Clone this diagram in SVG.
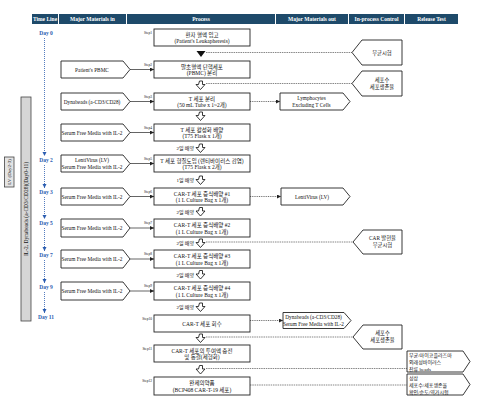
<svg xmlns="http://www.w3.org/2000/svg" width="488" height="404" viewBox="0 0 488 404">
<style>
text{font-family:"Liberation Serif","Noto Sans CJK KR",serif;fill:#111}
.hb{fill:#1e4a6a}
.hd{font-size:5.5px;font-weight:bold;fill:#fff;text-anchor:middle}
.box{fill:#fff;stroke:#222;stroke-width:0.9}
.pt{font-size:5.5px;text-anchor:middle}
.mt{font-size:5.3px;text-anchor:middle}
.rt{font-size:5px}
.st{font-size:3.5px;text-anchor:end}
.lbl{font-size:5px;text-anchor:end}
.day{font-size:5.5px;font-weight:bold;fill:#2a5cb0;text-anchor:middle}
.ha{fill:#fff;stroke:#222;stroke-width:0.9}
.in{stroke:#222;stroke-width:0.7;fill:none}
.out{stroke:#333;stroke-width:0.7;stroke-dasharray:1 0.8;fill:none}
.dash{stroke:#555;stroke-width:0.7;stroke-dasharray:1.5 0.8;fill:none}
.tl{stroke:#2a5cb0;stroke-width:0.8;stroke-dasharray:1 1;fill:none}
</style>
<defs>
<marker id="ah" markerUnits="userSpaceOnUse" markerWidth="5" markerHeight="5" refX="4" refY="2" orient="auto"><path d="M0,0 L4,2 L0,4 z" fill="#222"/></marker>
<marker id="ab" markerUnits="userSpaceOnUse" markerWidth="5" markerHeight="5" refX="4" refY="2" orient="auto"><path d="M0,0 L4,2 L0,4 z" fill="#2a5cb0"/></marker>
</defs>
<rect width="488" height="404" fill="#fff"/>

<g id="header">
<rect class="hb" x="32" y="14" width="26" height="10"/><text class="hd" x="45" y="21">Time Line</text>
<rect class="hb" x="59" y="14" width="67" height="10"/><text class="hd" x="92.5" y="21">Major Materials in</text>
<rect class="hb" x="127" y="14" width="148" height="10"/><text class="hd" x="201" y="21">Process</text>
<rect class="hb" x="276" y="14" width="72" height="10"/><text class="hd" x="312" y="21">Major Materials out</text>
<rect class="hb" x="349" y="14" width="55" height="10"/><text class="hd" x="376.5" y="21">In-process Control</text>
<rect class="hb" x="405" y="14" width="53" height="10"/><text class="hd" x="431.5" y="21">Release Test</text>
</g>

<g id="bar-il2">
<rect x="21" y="97" width="10" height="224" fill="#d6d6d6" stroke="#444" stroke-width="0.8"/>
<text transform="rotate(-90 26 209)" x="26" y="211" font-size="5.5" text-anchor="middle">IL-2, Dynabeads (a-CD3/CD28)(Day0-11)</text>
</g>
<g id="bar-lv">
<rect x="4.5" y="157" width="9.5" height="30" fill="#e4e4e4" stroke="#444" stroke-width="0.8"/>
<text transform="rotate(-90 9.25 172)" x="9.25" y="174" font-size="5" text-anchor="middle">LV (Day2-3)</text>
</g>

<g id="timeline">
<text class="day" x="46" y="35">Day 0</text>
<text class="day" x="46" y="162">Day 2</text>
<text class="day" x="46" y="194">Day 3</text>
<text class="day" x="46" y="225">Day 5</text>
<text class="day" x="46" y="257">Day 7</text>
<text class="day" x="46" y="289">Day 9</text>
<text class="day" x="46" y="319">Day 11</text>
</g>

<g id="connectors">
<path class="tl" d="M44.5,38 V156" marker-end="url(#ab)"/>
<path class="tl" d="M44.5,165 V188" marker-end="url(#ab)"/>
<path class="tl" d="M44.5,197 V219" marker-end="url(#ab)"/>
<path class="tl" d="M44.5,228 V251" marker-end="url(#ab)"/>
<path class="tl" d="M44.5,260 V283" marker-end="url(#ab)"/>
<path class="tl" d="M44.5,292 V313" marker-end="url(#ab)"/>

<path class="in" d="M130,69.5 H154" marker-end="url(#ah)"/>
<path class="in" d="M130,101.5 H154" marker-end="url(#ah)"/>
<path class="in" d="M130,132.5 H154" marker-end="url(#ah)"/>
<path class="in" d="M130,163.5 H154" marker-end="url(#ah)"/>
<path class="in" d="M130,196.5 H154" marker-end="url(#ah)"/>
<path class="in" d="M130,228 H154" marker-end="url(#ah)"/>
<path class="in" d="M130,259 H154" marker-end="url(#ah)"/>
<path class="in" d="M130,291 H154" marker-end="url(#ah)"/>

<path class="out" d="M250,101.5 H280" marker-end="url(#ah)"/>
<path class="out" d="M250,196.5 H281" marker-end="url(#ah)"/>
<path class="out" d="M250,320.5 H283" marker-end="url(#ah)"/>

<path class="dash" d="M206,52.5 H352"/>
<path class="dash" d="M206,83.5 H352"/>
<path class="dash" d="M206,242 H353"/>
<path class="dash" d="M206,337 H353"/>
<path class="dash" d="M206,368.5 H407"/>
<path class="dash" d="M250,385 H407"/>

<polygon points="196.5,51 205.5,51 201,57" fill="#111"/>
<path class="ha" d="M199.5,81 h3 v3.5 h2.5 l-4.5,5 l-4.5,-5 h2.5 z"/>
<path class="ha" d="M199.5,112 h3 v3.5 h2.5 l-4.5,5 l-4.5,-5 h2.5 z"/>
<path class="ha" d="M199.5,144 h3 v3.5 h2.5 l-4.5,5 l-4.5,-5 h2.5 z"/>
<path class="ha" d="M199.5,176 h3 v3.5 h2.5 l-4.5,5 l-4.5,-5 h2.5 z"/>
<path class="ha" d="M199.5,207.5 h3 v3.5 h2.5 l-4.5,5 l-4.5,-5 h2.5 z"/>
<path class="ha" d="M199.5,239 h3 v3.5 h2.5 l-4.5,5 l-4.5,-5 h2.5 z"/>
<path class="ha" d="M199.5,270.5 h3 v3.5 h2.5 l-4.5,5 l-4.5,-5 h2.5 z"/>
<path class="ha" d="M199.5,303 h3 v3.5 h2.5 l-4.5,5 l-4.5,-5 h2.5 z"/>
<path class="ha" d="M199.5,334 h3 v3.5 h2.5 l-4.5,5 l-4.5,-5 h2.5 z"/>
<path class="ha" d="M199.5,365.5 h3 v3.5 h2.5 l-4.5,5 l-4.5,-5 h2.5 z"/>
<text class="lbl" x="194" y="150">2일 배양</text>
<text class="lbl" x="194" y="182">1일 배양</text>
<text class="lbl" x="194" y="213.5">2일 배양</text>
<text class="lbl" x="194" y="245">2일 배양</text>
<text class="lbl" x="194" y="276.5">2일 배양</text>
<text class="lbl" x="194" y="309">2일 배양</text>
</g>

<g id="step1"><rect class="box" x="154" y="29" width="96" height="17"/><text class="st" x="152" y="34">Step1</text><text class="pt" x="202" y="36.5">환자 혈액 입고</text><text class="pt" x="202" y="43">(Patient's Leukapheresis)</text></g>
<g id="step2"><rect class="box" x="154" y="61" width="96" height="17"/><text class="st" x="152" y="66">Step2</text><text class="pt" x="202" y="68.5">말초혈액 단핵세포</text><text class="pt" x="202" y="75">(PBMC) 분리</text></g>
<g id="step3"><rect class="box" x="154" y="93" width="96" height="17"/><text class="st" x="152" y="98">Step3</text><text class="pt" x="202" y="100.5">T 세포 분리</text><text class="pt" x="202" y="107">(50 mL Tube x 1~2개)</text></g>
<g id="step4"><rect class="box" x="154" y="124" width="96" height="17"/><text class="st" x="152" y="129">Step4</text><text class="pt" x="202" y="131.5">T 세포 활성화 배양</text><text class="pt" x="202" y="138">(T75 Flask x 1개)</text></g>
<g id="step5"><rect class="box" x="154" y="155" width="96" height="17"/><text class="st" x="152" y="160">Step5</text><text class="pt" x="202" y="162.5">T 세포 형질도입 (렌티바이러스 감염)</text><text class="pt" x="202" y="169">(T75 Flask x 2개)</text></g>
<g id="step6"><rect class="box" x="154" y="188" width="96" height="17"/><text class="st" x="152" y="193">Step6</text><text class="pt" x="202" y="195.5">CAR-T 세포 증식배양 #1</text><text class="pt" x="202" y="202">(1 L Culture Bag x 1개)</text></g>
<g id="step7"><rect class="box" x="154" y="219" width="96" height="18"/><text class="st" x="152" y="224">Step7</text><text class="pt" x="202" y="227">CAR-T 세포 증식배양 #2</text><text class="pt" x="202" y="233.5">(1 L Culture Bag x 1개)</text></g>
<g id="step8"><rect class="box" x="154" y="250" width="96" height="18"/><text class="st" x="152" y="255">Step8</text><text class="pt" x="202" y="258">CAR-T 세포 증식배양 #3</text><text class="pt" x="202" y="264.5">(1 L Culture Bag x 1개)</text></g>
<g id="step9"><rect class="box" x="154" y="282" width="96" height="18"/><text class="st" x="152" y="287">Step9</text><text class="pt" x="202" y="290">CAR-T 세포 증식배양 #4</text><text class="pt" x="202" y="296.5">(1 L Culture Bag x 1개)</text></g>
<g id="step10"><rect class="box" x="154" y="315" width="96" height="17"/><text class="st" x="152" y="320">Step10</text><text class="pt" x="202" y="325.5">CAR-T 세포 회수</text></g>
<g id="step11"><rect class="box" x="154" y="345" width="96" height="17"/><text class="st" x="152" y="350">Step11</text><text class="pt" x="202" y="352.5">CAR-T 세포의 투여액 충전</text><text class="pt" x="202" y="359">및 동결(제형화)</text></g>
<g id="step12"><rect class="box" x="154" y="377" width="96" height="18"/><text class="st" x="152" y="382">Step12</text><text class="pt" x="202" y="385">완제의약품</text><text class="pt" x="202" y="391.5">(BCP408 CAR-T-19 세포)</text></g>

<g id="in-pbmc"><polygon class="box" points="61,61 123,61 130,69.5 123,78 61,78"/><text class="mt" x="92" y="71.5">Patient's PBMC</text></g>
<g id="in-dynabeads"><polygon class="box" points="61,93 123,93 130,101.5 123,110 61,110"/><text class="mt" x="92" y="103.5">Dynabeads (a-CD3/CD28)</text></g>
<g id="in-serum4"><polygon class="box" points="61,124 123,124 130,132.5 123,141 61,141"/><text class="mt" x="92" y="134.5">Serum Free Media with IL-2</text></g>
<g id="in-lv"><polygon class="box" points="61,155 123,155 130,163.5 123,172 61,172"/><text class="mt" x="92" y="162">LentiVirus (LV)</text><text class="mt" x="92" y="168.5">Serum Free Media with IL-2</text></g>
<g id="in-serum6"><polygon class="box" points="61,188 123,188 130,196.5 123,205 61,205"/><text class="mt" x="92" y="198.5">Serum Free Media with IL-2</text></g>
<g id="in-serum7"><polygon class="box" points="61,219 123,219 130,228 123,237 61,237"/><text class="mt" x="92" y="230">Serum Free Media with IL-2</text></g>
<g id="in-serum8"><polygon class="box" points="61,250 123,250 130,259 123,268 61,268"/><text class="mt" x="92" y="261">Serum Free Media with IL-2</text></g>
<g id="in-serum9"><polygon class="box" points="61,282 123,282 130,291 123,300 61,300"/><text class="mt" x="92" y="293">Serum Free Media with IL-2</text></g>

<g id="out-lympho"><polygon class="box" points="280,93 343,93 350,101.5 343,110 280,110"/><text class="mt" x="311.5" y="100">Lymphocytes</text><text class="mt" x="311.5" y="106.5">Excluding T Cells</text></g>
<g id="out-lv"><polygon class="box" points="281,188 343,188 350,196.5 343,205 281,205"/><text class="mt" x="312" y="198.5">LentiVirus (LV)</text></g>
<g id="out-dyna"><polygon class="box" points="283,312.5 344,312.5 351,320.5 344,328.5 283,328.5"/><text class="mt" x="313.5" y="319" font-size="4.8">Dynabeads (a-CD3/CD28)</text><text class="mt" x="313.5" y="325.5" font-size="4.8">Serum Free Media with IL-2</text></g>

<g id="ipc-sterility"><polygon class="box" points="352,52.5 362,40 402,40 402,65 362,65"/><text class="mt" x="382" y="54.5">무균시험</text></g>
<g id="ipc-cellcount1"><polygon class="box" points="352,83.5 362,71 402,71 402,96 362,96"/><text class="mt" x="382" y="81.5">세포수</text><text class="mt" x="382" y="88.5">세포생존율</text></g>
<g id="ipc-car"><polygon class="box" points="353,242 363,230 402,230 402,254 363,254"/><text class="mt" x="382.5" y="240">CAR 발현율</text><text class="mt" x="382.5" y="247">무균시험</text></g>
<g id="ipc-cellcount2"><polygon class="box" points="353,337 363,325 402,325 402,349 363,349"/><text class="mt" x="382.5" y="335">세포수</text><text class="mt" x="382.5" y="342">세포생존율</text></g>

<g id="rt-safety"><polygon class="box" points="407,351 463,351 470,361.5 463,372 407,372"/><text class="rt" x="409" y="356.5">무균/마이코플라즈마</text><text class="rt" x="409" y="363.5">외래성바이러스</text><text class="rt" x="409" y="370.5">잔류 beads</text></g>
<g id="rt-quality"><polygon class="box" points="407,374 463,374 470,384.5 463,395 407,395"/><text class="rt" x="409" y="379.5">성상</text><text class="rt" x="409" y="386.5">세포수/세포생존율</text><text class="rt" x="409" y="393.5">확인/순도/역가시험</text></g>
</svg>
